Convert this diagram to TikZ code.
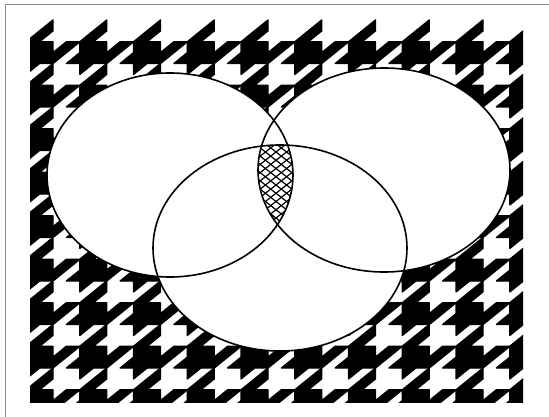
\documentclass[tikz,border=0pt]{standalone}
\begin{document}
\begin{tikzpicture}[x=1pt,y=-1pt]
\tikzset{
  outline/.style={draw=black,line width=1.6pt},
  hatchline/.style={draw=black,line width=1.2pt},
  frame/.style={draw=black!45,line width=1pt},
  tooth/.style={fill=black,draw=black,line width=1.4pt,line join=round}
}
\useasboundingbox (0,0) rectangle (549,417);
% frame
\draw[frame] (5,417) -- (5,5) -- (549,5);
% houndstooth
\begin{scope}
\clip (30,0) rectangle (523,402);
\foreach \k in {0,...,8}{
  \foreach \m in {-1,...,10}{
    \path[tooth,shift={({53+53.75*\m-26.88},{20+43.5*\k+21.75})},xscale=13.44,yscale=10.875]
      (0,0) -- (2,-2) -- (2,-1) -- (1,0) -- (2,0) -- (2,1) -- (3,0) -- (4,0)
      -- (2,2) -- (1,2) -- (0,3) -- (0,2) -- (-1,2) -- (0,1) -- cycle;
  }
}
\end{scope}
% ellipses
\coordinate (cl) at (170,175);
\coordinate (cr) at (384,170);
\coordinate (cb) at (280,248);
\fill[white] (cl) ellipse [x radius=123, y radius=102];
\fill[white] (cr) ellipse [x radius=126, y radius=102];
\fill[white] (cb) ellipse [x radius=127, y radius=103];
% hatched lens
\begin{scope}
\clip (cl) ellipse [x radius=123, y radius=102];
\clip (cr) ellipse [x radius=126, y radius=102];
\clip (cb) ellipse [x radius=127, y radius=103];
\foreach \i in {-16,...,16}{
  \draw[hatchline,rotate around={38:(276,185)}] (176,{185+\i*6.5}) -- (376,{185+\i*6.5});
  \draw[hatchline,rotate around={-38:(276,185)}] (176,{185+\i*6.5}) -- (376,{185+\i*6.5});
}
\end{scope}
\draw[outline] (cl) ellipse [x radius=123, y radius=102];
\draw[outline] (cr) ellipse [x radius=126, y radius=102];
\draw[outline] (cb) ellipse [x radius=127, y radius=103];
\end{tikzpicture}
\end{document}
